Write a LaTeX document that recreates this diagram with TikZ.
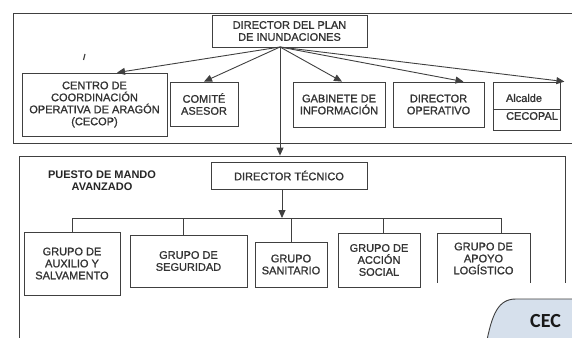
\documentclass[tikz,border=0pt]{standalone}
\usepackage{fontspec}
\setmainfont{Liberation Sans}
\newfontfamily\scanfont{Liberation Sans}[FakeBold=1.2]
\newfontfamily\slidefont{Carlito}
\usepackage{xcolor}
\usetikzlibrary{arrows.meta}

\definecolor{scan}{gray}{0.25}
\definecolor{slideblue}{HTML}{D6E0EC}

\begin{document}
\begin{tikzpicture}[
  x=1pt, y=-1pt,
  box/.style={draw=scan, line width=0.8pt, align=center, inner sep=1pt, text=black!80,
    font=\scanfont\fontsize{11}{12}\selectfont},
  frame/.style={draw=scan, line width=0.8pt, inner sep=0pt},
  link/.style={draw=scan, line width=0.9pt},
  >={Triangle[length=8pt, width=7pt]}
]
  \useasboundingbox (0,0) rectangle (572,337);
  \clip (0,0) rectangle (572,337);

  % frames
  \node[frame, minimum width=567pt, minimum height=130pt] (upper) at (296.5,78) {};
  \node[frame, minimum width=546pt, minimum height=194pt] (pma) at (292,253) {};

  % plan level
  \node[box, minimum width=155pt, minimum height=32pt] (dplan) at (289.5,31) {DIRECTOR DEL PLAN\\DE INUNDACIONES};
  \coordinate (hub) at (280,47);
  \node[box, minimum width=145pt, minimum height=63pt] (cecop) at (94.5,104.5) {CENTRO DE\\COORDINACIÓN\\OPERATIVA DE ARAGÓN\\(CECOP)};
  \node[box, minimum width=68pt, minimum height=44pt] (comite) at (204,104) {COMITÉ\\ASESOR};
  \node[box, minimum width=92pt, minimum height=45pt] (gabinete) at (339,104.5) {GABINETE DE\\INFORMACIÓN};
  \node[box, minimum width=91pt, minimum height=45pt] (dop) at (438.5,104.5) {DIRECTOR\\OPERATIVO};
  \node[box, minimum width=67pt, minimum height=48pt] (alcalde) at (526.5,106) {};
  \draw[link] ([yshift=-3pt]alcalde.west) -- ([yshift=-3pt]alcalde.east);
  \node[text=black!80, font=\scanfont\fontsize{11}{12}\selectfont, inner sep=0pt] (alc) at (524,98) {Alcalde};
  \node[text=black!80, font=\scanfont\fontsize{11}{12}\selectfont, inner sep=0pt] (cecopal) at (532,116) {CECOPAL};
  \draw[scan, line width=1.2pt] (83.5,60) -- (85,54);

  \draw[link, ->] (hub) -- ([xshift=22.5pt]cecop.north);
  \draw[link, ->] (hub) -- (comite.north);
  \draw[link, ->] (hub) -- ([xshift=3pt]gabinete.north);
  \draw[link, ->] (hub) -- ([xshift=25pt]dop.north);
  \draw[link, ->] (hub) -- ([xshift=4pt]alcalde.north east);
  \draw[link, ->] (hub) -- (hub |- pma.north);

  % puesto de mando avanzado
  \node[text=black!85, align=center, font=\bfseries\fontsize{11}{12}\selectfont] (pmalabel) at (102,181) {PUESTO DE MANDO\\AVANZADO};
  \node[box, minimum width=156pt, minimum height=27pt] (dtec) at (289,175.5) {DIRECTOR TÉCNICO};
  \coordinate (bus) at (282,218);
  \node[box, minimum width=96pt, minimum height=63pt] (g1) at (72,263.5) {GRUPO DE\\AUXILIO Y\\SALVAMENTO};
  \node[box, minimum width=117pt, minimum height=52pt] (g2) at (188.5,261) {GRUPO DE\\SEGURIDAD};
  \node[box, minimum width=72pt, minimum height=45pt] (g3) at (291,264.5) {GRUPO\\SANITARIO};
  \node[box, minimum width=82pt, minimum height=54pt] (g4) at (379,260) {GRUPO DE\\ACCIÓN\\SOCIAL};
  \node[box, minimum width=93pt, minimum height=51pt] (g5) at (483.5,258.5) {GRUPO DE\\APOYO\\LOGÍSTICO};

  \draw[link, ->] (dtec.south -| bus) -- (bus);
  \draw[link] (g1.north |- bus) -- ([xshift=17.5pt]g5.north |- bus);
  \draw[link] (g1.north) -- (g1.north |- bus);
  \draw[link] ([xshift=-5.5pt]g2.north) -- ([xshift=-5.5pt]g2.north |- bus);
  \draw[link] (g3.north) -- (g3.north |- bus);
  \draw[link] ([xshift=4pt]g4.north) -- ([xshift=4pt]g4.north |- bus);
  \draw[link] ([xshift=17.5pt]g5.north) -- ([xshift=17.5pt]g5.north |- bus);

  % slide overlay
  \fill[white] (430,283) rectangle (580,345);
  \draw[draw=black!75, line width=0.9pt, fill=slideblue] (486,345) .. controls (492,314) and (498,299) .. (516,299) -- (580,299) -- (580,345);
  \node[anchor=west, inner sep=0pt, text=black!90, font=\slidefont\bfseries\fontsize{20}{24}\selectfont] (cec) at (530,321.5) {CEC};
\end{tikzpicture}
\end{document}
